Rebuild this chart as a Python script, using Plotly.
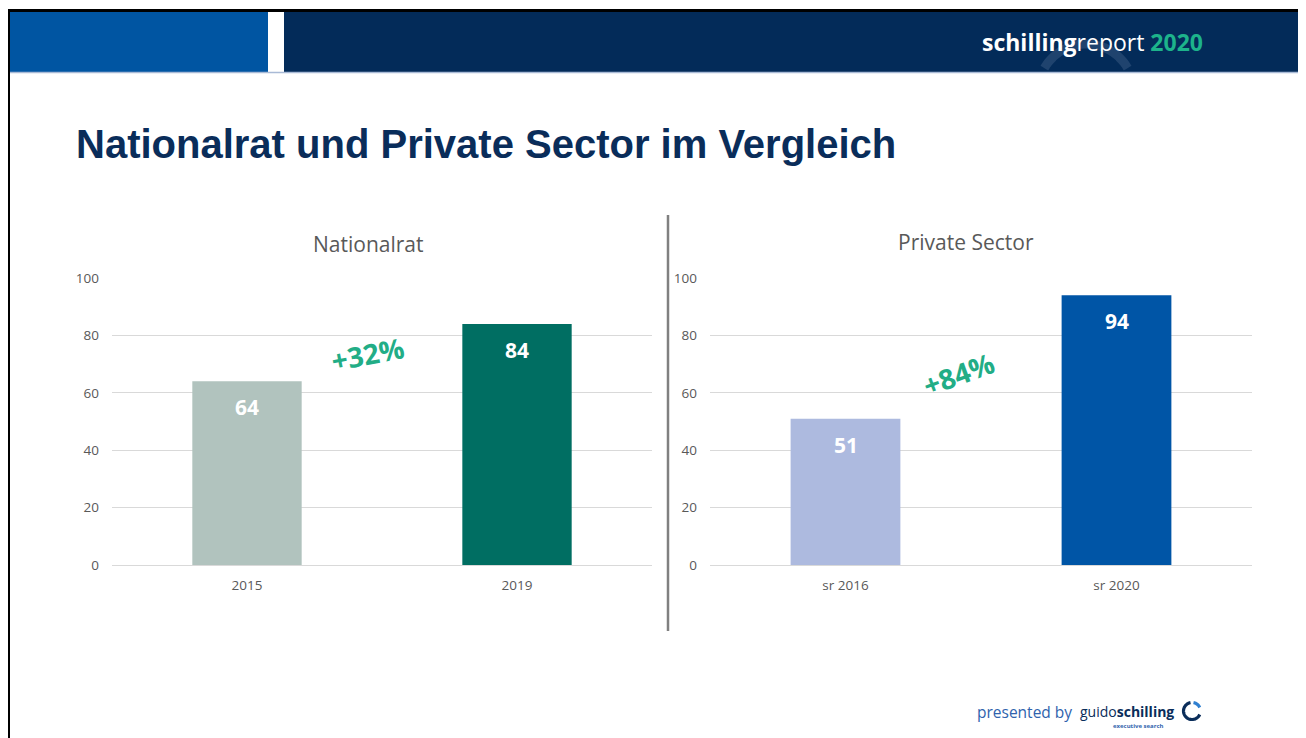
import numpy as np
import plotly.graph_objects as go

# ---------------- data ----------------
left_title = "Nationalrat"
left_categories = ["2015", "2019"]
left_values = [64, 84]
left_colors = ["#b1c3be", "#006e62"]
left_growth = "+32%"

right_title = "Private Sector"
right_categories = ["sr 2016", "sr 2020"]
right_values = [51, 94]
right_colors = ["#adbadf", "#0055a6"]
right_growth = "+84%"

y_ticks = [0, 20, 40, 60, 80, 100]

W, H = 1306, 738
OFF = 8  # page body offset of the rendered figure
def px(x): return (x - OFF) / W
def py(y): return 1 - (y - OFF) / H

fig = go.Figure()
fig.add_trace(go.Bar(x=left_categories, y=left_values, marker_color=left_colors,
                     width=0.405, xaxis="x", yaxis="y", hoverinfo="x+y"))
fig.add_trace(go.Bar(x=right_categories, y=right_values, marker_color=right_colors,
                     width=0.405, xaxis="x2", yaxis="y2", hoverinfo="x+y"))

tickfont = dict(family="Open Sans, Liberation Sans, sans-serif", size=13.5, color="#595959")
axis_common = dict(showline=False, ticks="", tickfont=tickfont, fixedrange=True, automargin=False)
xaxis_common = dict(type="category", range=[-0.5, 1.5], autorange=False, showgrid=False,
                    zeroline=False, ticklabelstandoff=10, **axis_common)
yaxis_common = dict(range=[0, 100], autorange=False, tickvals=y_ticks, showgrid=True, gridcolor="#d9d9d9",
                    gridwidth=1, zeroline=True, zerolinecolor="#d9d9d9", zerolinewidth=1,
                    ticklabelstandoff=12, **axis_common)

fig.update_layout(
    template="none",
    width=W, height=H, margin=dict(l=0, r=0, t=0, b=0, pad=0, autoexpand=False),
    paper_bgcolor="white", plot_bgcolor="white", showlegend=False,
    xaxis=dict(domain=[px(112), px(652)], anchor="y", **xaxis_common),
    yaxis=dict(domain=[py(565), py(278)], anchor="x", **yaxis_common),
    xaxis2=dict(domain=[px(710), px(1252)], anchor="y2", **xaxis_common),
    yaxis2=dict(domain=[py(565), py(278)], anchor="x2", **yaxis_common),
)

shapes = []
# page border (top + left)
shapes.append(dict(type="line", xref="paper", yref="paper", x0=px(8), x1=1, y0=py(10.5), y1=py(10.5),
                   line=dict(color="#000000", width=3)))
shapes.append(dict(type="line", xref="paper", yref="paper", x0=px(8.5), x1=px(8.5), y0=py(9), y1=0,
                   line=dict(color="#000000", width=3)))
# header blocks
shapes.append(dict(type="rect", xref="paper", yref="paper", x0=px(10), x1=px(268), y0=py(12), y1=py(72),
                   fillcolor="#0055a2", line=dict(width=0), layer="below"))
shapes.append(dict(type="rect", xref="paper", yref="paper", x0=px(284), x1=1, y0=py(12), y1=py(72),
                   fillcolor="#032b59", line=dict(width=0), layer="below"))
shapes.append(dict(type="line", xref="paper", yref="paper", x0=px(10), x1=1, y0=py(72.5), y1=py(72.5),
                   line=dict(color="#a9bad6", width=1.5)))
# faint decorative arc in header
t = np.linspace(np.pi * 1.05, np.pi * 1.95, 40)
cx, cy, r = 1086, 92, 48
pts = [(cx + r * np.cos(a), cy + r * np.sin(a)) for a in t]
pts = [(x, y) for x, y in pts if y <= 71]
path = "M " + " L ".join(f"{px(x):.5f},{py(y):.5f}" for x, y in pts)
shapes.append(dict(type="path", xref="paper", yref="paper", path=path,
                   line=dict(color="rgba(160,180,205,0.18)", width=9)))
# divider between charts
shapes.append(dict(type="line", xref="paper", yref="paper", x0=px(668), x1=px(668), y0=py(215), y1=py(631),
                   line=dict(color="#808080", width=2.5)))
# footer logo ring
cx, cy, r = 1192, 711, 8.5
def arc(a0, a1, n):
    t = np.linspace(np.radians(a0), np.radians(a1), n)
    return "M " + " L ".join(f"{px(cx + r*np.cos(a)):.5f},{py(cy - r*np.sin(a)):.5f}" for a in t)
shapes.append(dict(type="path", xref="paper", yref="paper", path=arc(100, 335, 50),
                   line=dict(color="#0a2d5a", width=3.2)))
shapes.append(dict(type="path", xref="paper", yref="paper", path=arc(25, 80, 12),
                   line=dict(color="#2f7fd0", width=3.2)))
fig.update_layout(shapes=shapes)

ann = []
# header brand text
ann.append(dict(xref="paper", yref="paper", x=px(1205), y=py(42), xanchor="right", yanchor="middle",
                showarrow=False,
                text="<b>schilling</b>report <span style='color:#1db38b'><b>2020</b></span>",
                font=dict(family="Open Sans, sans-serif", size=23, color="white")))
# main title
ann.append(dict(xref="paper", yref="paper", x=px(74), y=py(144), xanchor="left", yanchor="middle",
                showarrow=False, text="<b>Nationalrat und Private Sector im Vergleich</b>",
                font=dict(family="Liberation Sans, Arial, sans-serif", size=40, color="#0a2d5a")))
# chart titles
ann.append(dict(xref="paper", yref="paper", x=px(368), y=py(244), xanchor="center", yanchor="middle",
                showarrow=False, text=left_title,
                font=dict(family="Open Sans, sans-serif", size=21, color="#595959")))
ann.append(dict(xref="paper", yref="paper", x=px(966), y=py(242), xanchor="center", yanchor="middle",
                showarrow=False, text=right_title,
                font=dict(family="Open Sans, sans-serif", size=21, color="#595959")))
# value labels inside bars (positioned by category index and value)
for cats, vals, xr, yr in [(left_categories, left_values, "x", "y"), (right_categories, right_values, "x2", "y2")]:
    for i, v in enumerate(vals):
        ann.append(dict(xref=xr, yref=yr, x=i, y=v, xanchor="center", yanchor="middle", yshift=-26,
                        showarrow=False, text=f"<b>{v}</b>",
                        font=dict(family="Open Sans, sans-serif", size=21, color="white")))
# growth labels
ann.append(dict(xref="paper", yref="paper", x=px(367), y=py(354), xanchor="center", yanchor="middle",
                showarrow=False, text=f"<b>{left_growth}</b>", textangle=-11,
                font=dict(family="Open Sans, sans-serif", size=28, color="#22ad86")))
ann.append(dict(xref="paper", yref="paper", x=px(958), y=py(374), xanchor="center", yanchor="middle",
                showarrow=False, text=f"<b>{right_growth}</b>", textangle=-20,
                font=dict(family="Open Sans, sans-serif", size=28, color="#22ad86")))
# footer
ann.append(dict(xref="paper", yref="paper", x=px(1074), y=py(712), xanchor="right", yanchor="middle",
                showarrow=False, text="presented by",
                font=dict(family="Open Sans, sans-serif", size=15.5, color="#2f63ad")))
ann.append(dict(xref="paper", yref="paper", x=px(1176), y=py(711), xanchor="right", yanchor="middle",
                showarrow=False, text="guido<b>schilling</b>",
                font=dict(family="Open Sans, sans-serif", size=14, color="#0a2d5a")))
ann.append(dict(xref="paper", yref="paper", x=px(1166), y=py(726), xanchor="right", yanchor="middle",
                showarrow=False, text="<b>executive search</b>",
                font=dict(family="Open Sans, sans-serif", size=6, color="#2f63ad")))
fig.update_layout(annotations=ann)

fig.write_html("out.html")
